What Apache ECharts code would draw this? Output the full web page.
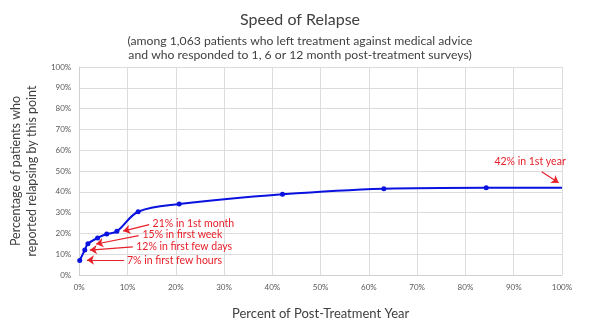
<!DOCTYPE html>
<html>
<head>
<meta charset="utf-8">
<script src="https://cdn.jsdelivr.net/npm/echarts@6/dist/echarts.min.js"></script>
<style>
  html, body { margin: 0; padding: 0; background: #fff; }
  #chart { width: 600px; height: 331px; }
</style>
</head>
<body>
<div id="chart"></div>
<script>
// Share of post-treatment year elapsed (%) and cumulative share relapsed (%)
const yearPct    = [0.1, 1.15, 1.8, 3.8, 5.7, 7.8, 12.2, 20.7, 42.1, 63.1, 84.3, 100];
const relapsePct = [7, 12, 15, 17.8, 19.7, 21, 30.4, 34.1, 38.8, 41.5, 42, 42];
// the last point closes the line at year end, drawn without a marker
const markerShown = [1, 1, 1, 1, 1, 1, 1, 1, 1, 1, 1, 0];

// Callouts: text, text anchor, arrow tail, arrow tip (all in axis units)
const calloutText = ['7% in first few hours', '12% in first few days', '15% in first week', '21% in 1st month', '42% in 1st year'];
const calloutAnchor = [[9.9, 7.0], [11.8, 13.7], [13.1, 19.5], [15.2, 24.8], [86.0, 54.6]];
const arrowTail = [[9.3, 7.2], [11.1, 13.5], [12.3, 18.9], [14.5, 24.2], [95.8, 49.6]];
const arrowTip  = [[1.6, 7.2], [2.2, 12.0], [3.5, 14.9], [9.1, 21.1], [99.3, 44.3]];

const xTicks = [0, 10, 20, 30, 40, 50, 60, 70, 80, 90, 100];
const yTicks = [0, 10, 20, 30, 40, 50, 60, 70, 80, 90, 100];

const FONT = 'Lato, "Open Sans", sans-serif';
const RED = '#e8202a';
const BLUE = '#0a12e0';
const GREY_TEXT = '#404040';

const chart = echarts.init(document.getElementById('chart'), null, { renderer: 'canvas' });

const points = yearPct.map((x, i) => ({
  value: [x, relapsePct[i]],
  symbolSize: markerShown[i] ? 5 : 0
}));

const subStyle = { fontFamily: FONT, fontSize: 12.2, fontWeight: 'normal', color: GREY_TEXT };

chart.setOption({
  animation: false,
  backgroundColor: '#fff',
  textStyle: { fontFamily: FONT },
  title: [
    {
      text: 'Speed of Relapse',
      left: 'center', top: 7,
      textStyle: { fontFamily: FONT, fontSize: 16, fontWeight: 'normal', color: GREY_TEXT }
    },
    {
      text: '(among 1,063 patients who left treatment against medical advice',
      left: 'center', top: 30,
      textStyle: subStyle
    },
    {
      text: 'and who responded to 1, 6 or 12 month post-treatment surveys)',
      left: 'center', top: 44,
      textStyle: subStyle
    }
  ],
  grid: { left: 72, right: 38, top: 67, bottom: 56, containLabel: false },
  xAxis: {
    type: 'value', min: xTicks[0], max: xTicks[xTicks.length - 1], interval: 10,
    name: 'Percent of Post-Treatment Year',
    nameLocation: 'middle', nameGap: 32,
    nameTextStyle: { fontFamily: FONT, fontSize: 13, color: GREY_TEXT },
    axisLine: { show: true, lineStyle: { color: '#d0d0d0', width: 1 } },
    axisTick: { show: false },
    axisLabel: { fontFamily: FONT, fontSize: 8, color: '#595959', margin: 8, formatter: v => v + '%' },
    splitLine: { show: true, lineStyle: { color: '#dcdcdc', width: 1 } }
  },
  yAxis: {
    type: 'value', min: yTicks[0], max: yTicks[yTicks.length - 1], interval: 10,
    name: 'Percentage of patients who\nreported relapsing by this point',
    nameLocation: 'middle', nameGap: 28, nameRotate: 90,
    nameTextStyle: { fontFamily: FONT, fontSize: 12.5, color: GREY_TEXT, lineHeight: 16, align: 'center' },
    axisLine: { show: true, lineStyle: { color: '#d0d0d0', width: 1 } },
    axisTick: { show: false },
    axisLabel: { fontFamily: FONT, fontSize: 8, color: '#595959', margin: 8, formatter: v => v + '%' },
    splitLine: { show: true, lineStyle: { color: '#dcdcdc', width: 1 } }
  },
  series: [
    {
      type: 'line',
      data: points,
      smooth: 0.35,
      symbol: 'circle',
      showAllSymbol: true,
      lineStyle: { color: BLUE, width: 2 },
      itemStyle: { color: BLUE },
      z: 3,
      markLine: {
        silent: true,
        symbol: ['none', 'arrow'],
        symbolSize: 7,
        precision: 2,
        label: { show: false },
        lineStyle: { color: RED, width: 1.2, type: 'solid' },
        itemStyle: { color: RED },
        data: arrowTail.map((t, i) => [
          { coord: t },
          { coord: arrowTip[i] }
        ])
      },
      markPoint: {
        silent: true,
        symbol: 'rect',
        symbolSize: 0,
        data: calloutText.map((txt, i) => ({
          coord: calloutAnchor[i],
          label: {
            show: true,
            position: 'right',
            distance: 0,
            formatter: txt,
            fontFamily: FONT,
            fontSize: 10.5,
            color: RED
          }
        }))
      }
    }
  ]
});
</script>
</body>
</html>
